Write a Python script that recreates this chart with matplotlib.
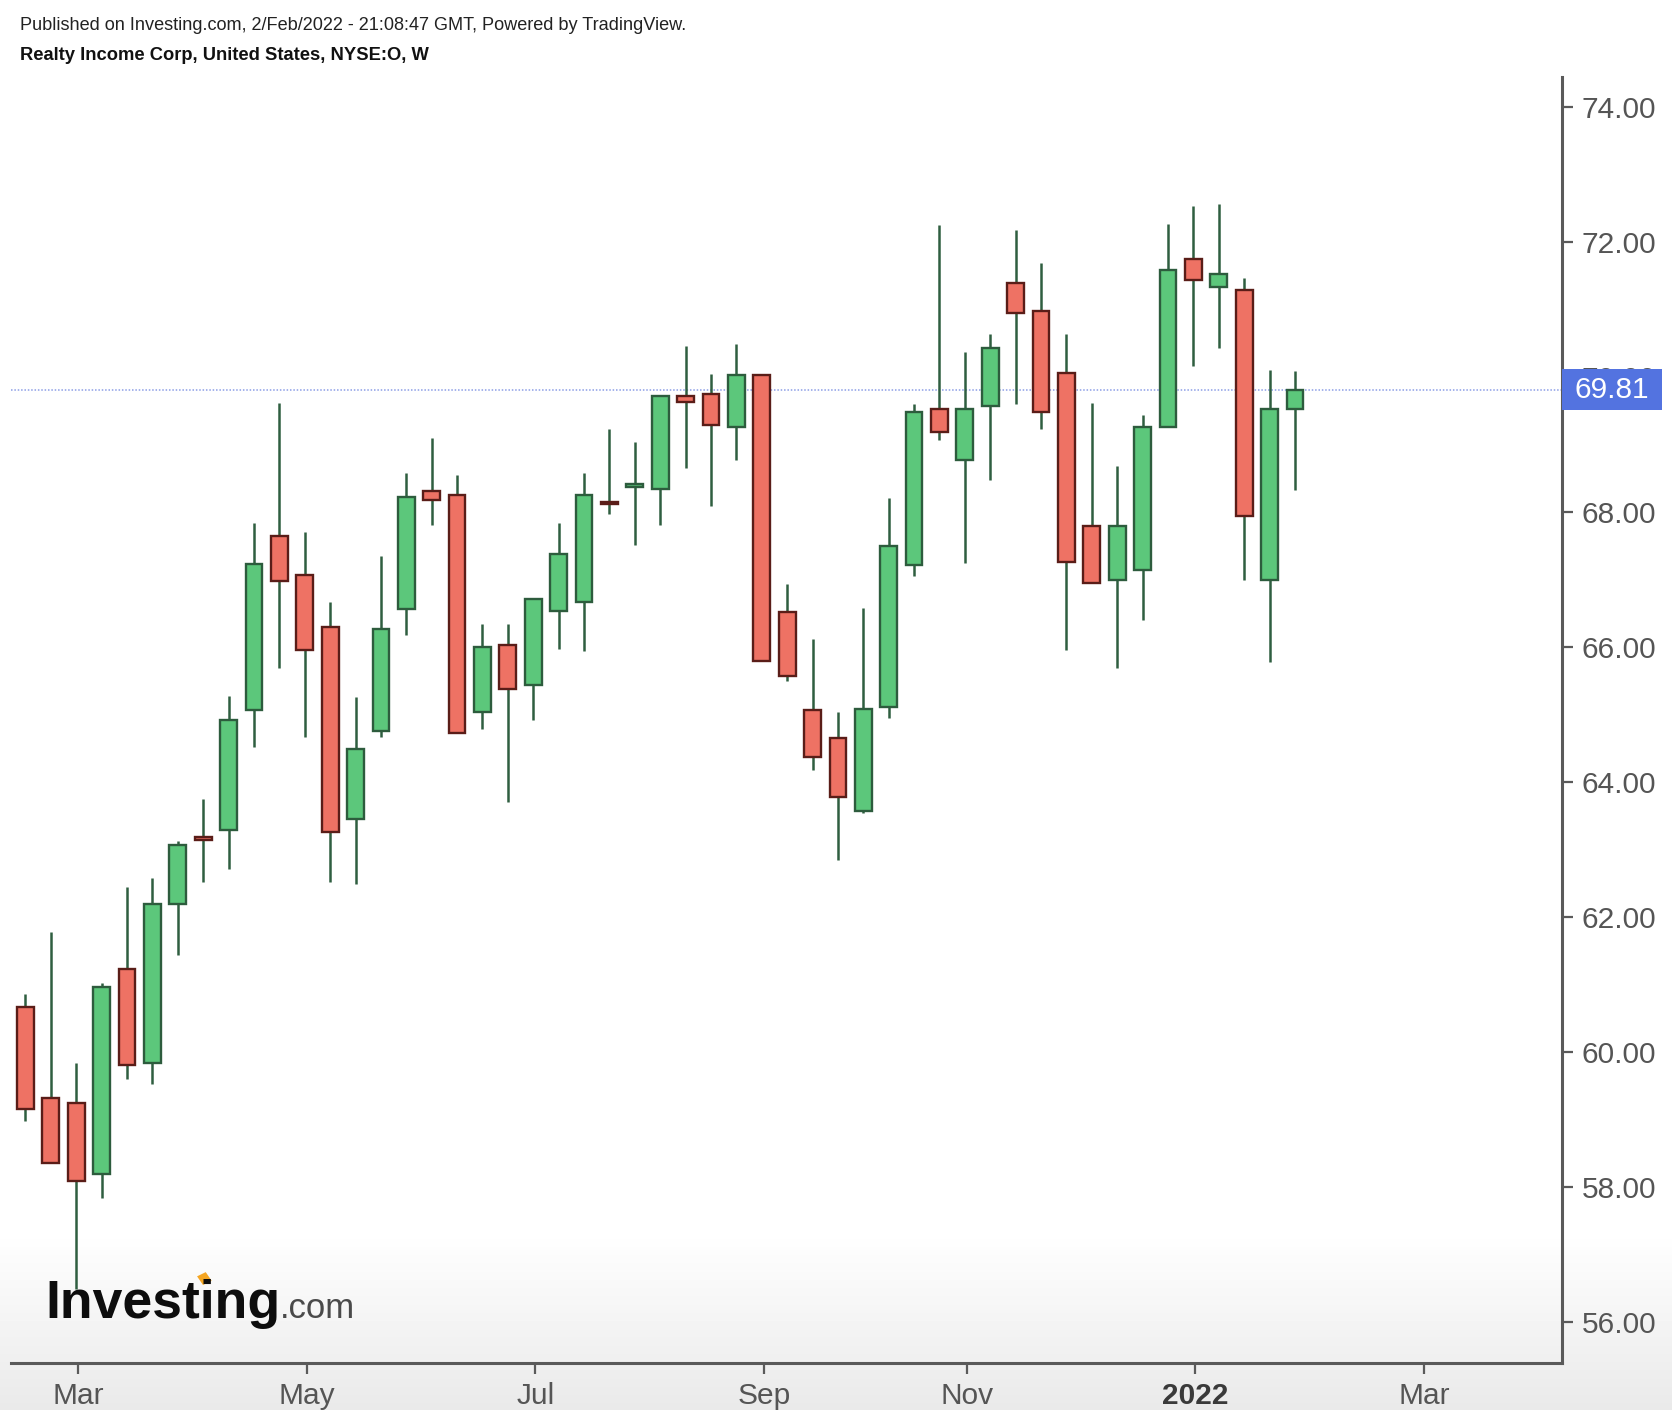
import numpy as np
import matplotlib
matplotlib.use("Agg")
import matplotlib.pyplot as plt
from matplotlib.patches import Rectangle
from matplotlib.transforms import blended_transform_factory

plt.rcParams['font.family'] = ['Liberation Sans', 'DejaVu Sans']

# weekly OHLC, Realty Income (NYSE:O), weeks from 15 Feb 2021
opens = [60.66, 59.31, 59.24, 58.19, 61.23, 59.84, 62.19, 63.18, 63.29, 65.06,
         67.64, 67.07, 66.29, 63.45, 64.75, 66.56, 68.30, 68.25, 65.03, 66.03,
         65.44, 66.53, 66.67, 68.15, 68.37, 68.33, 69.71, 69.74, 69.25, 70.02,
         66.52, 65.06, 64.65, 63.56, 65.11, 67.21, 69.52, 68.76, 69.56, 71.39,
         70.97, 70.05, 67.79, 66.99, 67.13, 69.25, 71.74, 71.33, 71.28, 66.99,
         69.52]
highs = [60.85, 61.78, 59.84, 61.02, 62.44, 62.58, 63.12, 63.74, 65.27, 67.84,
         69.61, 67.70, 66.66, 65.25, 67.35, 68.58, 69.09, 68.55, 66.34, 66.34,
         66.71, 67.84, 68.57, 69.23, 69.04, 69.71, 70.46, 70.04, 70.49, 70.02,
         66.93, 66.12, 65.03, 66.58, 68.20, 69.59, 72.25, 70.37, 70.64, 72.18,
         71.68, 70.64, 69.61, 68.68, 69.44, 72.26, 72.53, 72.56, 71.46, 70.10,
         70.08]
lows = [58.97, 58.35, 56.49, 57.83, 59.60, 59.52, 61.43, 62.52, 62.71, 64.51,
        65.69, 64.67, 62.52, 62.49, 64.67, 66.18, 67.81, 64.72, 64.78, 63.70,
        64.92, 65.96, 65.93, 67.97, 67.51, 67.81, 68.65, 68.08, 68.77, 65.79,
        65.49, 64.18, 62.84, 63.53, 64.94, 67.05, 69.06, 67.24, 68.47, 69.59,
        69.23, 65.95, 66.94, 65.68, 66.39, 69.25, 70.16, 70.43, 66.99, 65.77,
        68.32]
closes = [59.16, 58.35, 58.08, 60.96, 59.80, 62.19, 63.07, 63.14, 64.92, 67.23,
          66.97, 65.95, 63.26, 64.49, 66.26, 68.22, 68.17, 64.72, 65.99, 65.38,
          66.71, 67.37, 68.25, 68.11, 68.41, 69.71, 69.63, 69.28, 70.02, 65.79,
          65.57, 64.37, 63.77, 65.08, 67.49, 69.48, 69.18, 69.52, 70.43, 70.94,
          69.48, 67.26, 66.94, 67.79, 69.25, 71.58, 71.43, 71.52, 67.94, 69.52,
          69.81]

month_pos = [2.08, 11.08, 20.08, 29.08, 37.08, 46.08, 55.08]
month_labels = ['Mar', 'May', 'Jul', 'Sep', 'Nov', '2022', 'Mar']
price_ticks = [56, 58, 60, 62, 64, 66, 68, 70, 72, 74]
last_price = 69.81

up_fill, up_edge = '#5cc77b', '#2d5c3d'
dn_fill, dn_edge = '#ee7264', '#5a1d18'
wick_col = '#2f5e40'
axis_col = '#5a5a5a'

W, H = 1672, 1410
fig = plt.figure(figsize=(W / 100, H / 100), dpi=100)

# soft grey gradient at the bottom of the picture
bg = fig.add_axes([0, 0, 1, 1], zorder=-10)
bg.axis('off')
grad = np.ones((H, 1))
y0 = 1230
ramp = np.linspace(0, 1, H - y0)
grad[y0:, 0] = 1 - 0.085 * ramp
bg.imshow(grad, cmap='gray', vmin=0, vmax=1, aspect='auto', extent=[0, 1, 0, 1])

ax = fig.add_axes([11 / W, 1 - 1363 / H, (1562 - 11) / W, (1363 - 77) / H])
ax.patch.set_alpha(0)

x = np.arange(len(opens))
bw = 0.66
for i in x:
    o, h, l, c = opens[i], highs[i], lows[i], closes[i]
    up = c >= o
    ax.vlines(i, l, h, color=wick_col, lw=1.8, zorder=2)
    bot, top = min(o, c), max(o, c)
    ax.add_patch(Rectangle((i - bw / 2, bot), bw, max(top - bot, 0.02),
                           facecolor=up_fill if up else dn_fill,
                           edgecolor=up_edge if up else dn_edge,
                           lw=1.7, zorder=3))

ax.axhline(last_price, color='#8c9ee6', lw=1.1, ls=(0, (1, 1.2)), zorder=1)

ax.set_xlim(-0.57, 60.52)
ax.set_ylim(55.39, 74.44)

for s in ['top', 'left']:
    ax.spines[s].set_visible(False)
for s in ['right', 'bottom']:
    ax.spines[s].set_color(axis_col)
    ax.spines[s].set_linewidth(2.2)

ax.yaxis.tick_right()
ax.set_yticks(price_ticks)
ax.set_yticklabels([f'{v:.2f}' for v in price_ticks])
ax.set_xticks(month_pos)
ax.set_xticklabels(month_labels)
ax.tick_params(axis='both', colors=axis_col, labelcolor='#555555', labelsize=21.5,
               length=8, width=1.6)
ax.tick_params(axis='y', pad=6)
ax.tick_params(axis='x', pad=6)
ax.get_xticklabels()[5].set_fontweight('bold')
ax.get_xticklabels()[5].set_color('#3a3a3a')

# last price label (covers the 70.00 tick label like the original)
tr = blended_transform_factory(ax.transAxes, ax.transData)
bw_ax = 100 / (1562 - 11)
half = 20.5 / 67.5
ax.add_patch(Rectangle((1.0, last_price - half), bw_ax, 2 * half, transform=tr,
                       facecolor='#5373e0', edgecolor='none', clip_on=False, zorder=10))
ax.text(1.0 + bw_ax / 2, last_price, f'{last_price:.2f}', transform=tr, color='white',
        fontsize=21.5, ha='center', va='center', zorder=11, clip_on=False)

fig.text(20 / W, 1 - 25 / H,
         'Published on Investing.com, 2/Feb/2022 - 21:08:47 GMT, Powered by TradingView.',
         fontsize=13.1, color='#222222', ha='left', va='center')
fig.text(20 / W, 1 - 55 / H, 'Realty Income Corp, United States, NYSE:O, W',
         fontsize=13.2, fontweight='bold', color='#111111', ha='left', va='center')

# Investing.com logo
fig.text(45 / W, 1 - 1318 / H, 'Investing', fontsize=38.5, fontweight='bold',
         color='#0d0d0d', ha='left', va='baseline')
fig.text(280 / W, 1 - 1318 / H, '.com', fontsize=25, color='#4a4a4a',
         ha='left', va='baseline')
fig.patches.append(Rectangle((203 / W, 1 - 1285 / H), 10 / W, 10 / H,
                             transform=fig.transFigure, facecolor='#f5a623',
                             edgecolor='none', angle=30))

fig.savefig('out.png', dpi=100)
